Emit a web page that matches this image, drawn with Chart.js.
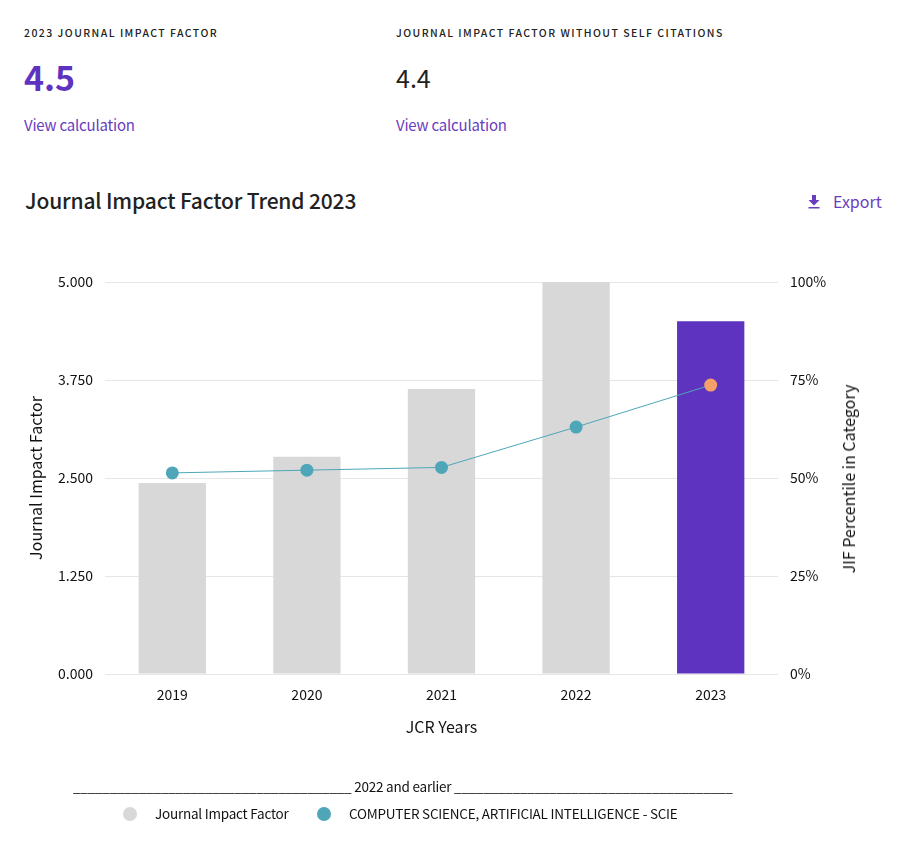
<!DOCTYPE html>
<html>
<head>
<meta charset="utf-8">
<title>Journal Impact Factor Trend 2023</title>
<script src="https://cdn.jsdelivr.net/npm/chart.js@4"></script>
<style>
  body { margin: 0; background: #fff; color: #222; font-family: "Noto Sans CJK SC", "Noto Sans", sans-serif; }
  #page { position: relative; width: 897px; height: 842px; overflow: hidden; }
  #page > * { position: absolute; white-space: nowrap; line-height: 1; }
  .eyebrow { top: 28px; font-size: 10.5px; font-weight: 500; letter-spacing: 1.45px; }
  .link { top: 117px; font-size: 15px; letter-spacing: -0.2px; color: #6a3dc0; }
  .legend { font-size: 13.5px; letter-spacing: -0.22px; color: #111; }
  .dot { width: 14px; height: 14px; border-radius: 50%; }
  #chartBox { left: 0; top: 230px; width: 897px; height: 612px; }
</style>
</head>
<body>
<div id="page">
  <div class="eyebrow" style="left:24px">2023 JOURNAL IMPACT FACTOR</div>
  <div class="eyebrow" style="left:396px">JOURNAL IMPACT FACTOR WITHOUT SELF CITATIONS</div>
  <div style="left:24px;top:60px;font-size:34px;font-weight:700;color:#5e33bf">4.5</div>
  <div style="left:396px;top:65px;font-size:25px">4.4</div>
  <div class="link" style="left:24px">View calculation</div>
  <div class="link" style="left:396px">View calculation</div>
  <div style="left:25px;top:190px;font-size:21px;font-weight:500;letter-spacing:-0.15px">Journal Impact Factor Trend 2023</div>
  <svg style="left:808px;top:195px" width="12" height="14" viewBox="0 0 12 14">
    <path d="M4 0h4v5h3.500L6 10.500 0.500 5H4z M0.500 12h11v1.500h-11z" fill="#6a3dc0"/>
  </svg>
  <div style="left:833px;top:193px;font-size:16px;color:#6a3dc0">Export</div>
  <div id="chartBox"><canvas id="myChart"></canvas></div>
  <div id="rightTitle" style="left:848px;top:479px;font-size:16px;color:#111;transform:translate(-50%,-50%) rotate(-90deg)"></div>
  <div id="legendTitle" class="legend" style="left:73px;top:780px"></div>
  <div class="dot" id="dotJif" style="left:123px;top:807px"></div>
  <div class="legend" id="textJif" style="left:155px;top:807px"></div>
  <div class="dot" id="dotCat" style="left:317px;top:807px"></div>
  <div class="legend" id="textCat" style="left:349px;top:807px"></div>
</div>
<script>
const years = ["2019", "2020", "2021", "2022", "2023"];
const impactFactor = [2.436, 2.77, 3.635, 5.0, 4.5];
const percentile = [51.3, 52.0, 52.7, 63.0, 73.7];
const jifTicks = [0, 1.25, 2.5, 3.75, 5];
const percentTicks = [0, 25, 50, 75, 100];
const legendTitle = "______________________________________ 2022 and earlier ______________________________________";
const jifLabel = "Journal Impact Factor";
const categoryLabel = "COMPUTER SCIENCE, ARTIFICIAL INTELLIGENCE - SCIE";
const rightLabel = "JIF Percentile in Category";

const gray = "#d8d8d8";
const purple = "#5e33bf";
const teal = "#4ea6b8";
const orange = "#f5a069";
const textColor = "#111";
const fontName = '"Noto Sans CJK SC", "Noto Sans", sans-serif';

Chart.defaults.font.family = fontName;
Chart.defaults.color = textColor;

const pintarGrafica = () => {
  document.getElementById("rightTitle").textContent = rightLabel;
  document.getElementById("legendTitle").textContent = legendTitle;
  document.getElementById("textJif").textContent = jifLabel;
  document.getElementById("textCat").textContent = categoryLabel;
  document.getElementById("dotJif").style.background = gray;
  document.getElementById("dotCat").style.background = teal;

  new Chart(document.getElementById("myChart"), {
    type: "bar",
    data: {
      labels: years,
      datasets: [
        {
          type: "line",
          label: categoryLabel,
          data: percentile,
          yAxisID: "yRight",
          borderColor: teal,
          borderWidth: 1,
          tension: 0,
          pointRadius: 6.5,
          pointHoverRadius: 6.5,
          pointBorderWidth: 0,
          pointBackgroundColor: years.map((y, i) => (i === years.length - 1 ? orange : teal)),
          order: 0,
        },
        {
          label: jifLabel,
          data: impactFactor,
          yAxisID: "yLeft",
          backgroundColor: years.map((y, i) => (i === years.length - 1 ? purple : gray)),
          barPercentage: 0.5,
          categoryPercentage: 1,
          order: 1,
        },
      ],
    },
    options: {
      responsive: true,
      maintainAspectRatio: false,
      animation: false,
      layout: { padding: { left: 26, right: 0, top: 52, bottom: 105 } },
      scales: {
        x: {
          grid: { display: false },
          border: { display: false },
          ticks: { font: { size: 14 }, padding: 4 },
          title: { display: true, text: "JCR Years", font: { size: 16 }, padding: { top: 11, bottom: 0 } },
        },
        yLeft: {
          position: "left",
          min: 0,
          max: 5,
          afterBuildTicks: (s) => { s.ticks = jifTicks.map((v) => ({ value: v })); },
          afterFit: (s) => { s.width = 79; },
          grid: { color: "#e6e6e6", drawTicks: false },
          border: { display: false },
          ticks: { font: { size: 14 }, padding: 12, callback: (v) => v.toFixed(3) },
          title: { display: true, text: jifLabel, font: { size: 16 }, padding: { top: 0, bottom: 12 } },
        },
        yRight: {
          position: "right",
          min: 0,
          max: 100,
          afterBuildTicks: (s) => { s.ticks = percentTicks.map((v) => ({ value: v })); },
          afterFit: (s) => { s.width = 119; },
          grid: { display: false },
          border: { display: false },
          ticks: { font: { size: 14 }, padding: 4, callback: (v) => v + "%" },
        },
      },
      plugins: {
        tooltip: { enabled: false },
        legend: { display: false },
      },
    },
  });
};

window.addEventListener("load", pintarGrafica);
</script>
</body>
</html>
